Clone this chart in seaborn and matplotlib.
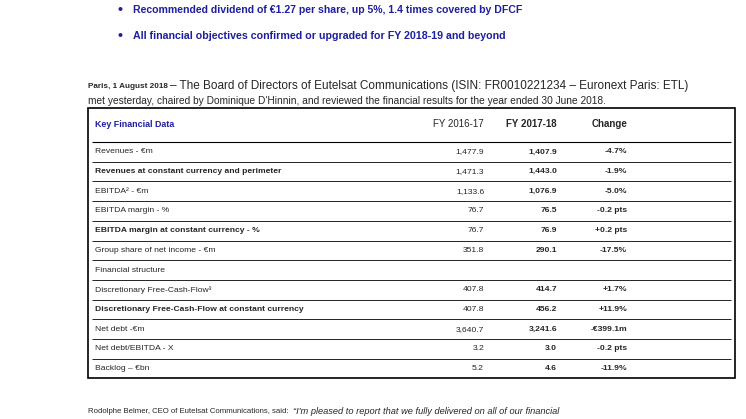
import matplotlib
matplotlib.use("Agg")
import matplotlib.pyplot as plt
import seaborn as sns

sns.set_theme(style="white")
font = "Liberation Sans"

# table data
labels = ["Revenues - €m", "Revenues at constant currency and perimeter", "EBITDA² - €m",
          "EBITDA margin - %", "EBITDA margin at constant currency - %",
          "Group share of net income - €m", "Financial structure",
          "Discretionary Free-Cash-Flow³", "Discretionary Free-Cash-Flow at constant currency",
          "Net debt -€m", "Net debt/EBITDA - X", "Backlog – €bn"]
fy17 = ["1,477.9", "1,471.3", "1,133.6", "76.7", "76.7", "351.8", "",
        "407.8", "407.8", "3,640.7", "3.2", "5.2"]
fy18 = ["1,407.9", "1,443.0", "1,076.9", "76.5", "76.9", "290.1", "",
        "414.7", "456.2", "3,241.6", "3.0", "4.6"]
change = ["-4.7%", "-1.9%", "-5.0%", "-0.2 pts", "+0.2 pts", "-17.5%", "",
          "+1.7%", "+11.9%", "-€399.1m", "-0.2 pts", "-11.9%"]
bold_rows = [1, 4, 8]

bullets = ["Recommended dividend of €1.27 per share, up 5%, 1.4 times covered by DFCF",
           "All financial objectives confirmed or upgraded for FY 2018-19 and beyond"]

fig = plt.figure(figsize=(7.46, 4.19), dpi=100)
ax = fig.add_axes([0, 0, 1, 1])
ax.set_xlim(0, 746)
ax.set_ylim(419, 0)
ax.axis("off")
r = fig.canvas.get_renderer()


def fit(x, y, s, width, **kw):
    # draw text and shrink it horizontally-ish by font size so it spans width pixels
    t = ax.text(x, y, s, va="center", family=font, **kw)
    w = t.get_window_extent(r).width
    t.set_fontsize(t.get_fontsize() * width / w)
    return t


blue = "#1f1f9e"
ax.text(117, 10, "•", color=blue, fontsize=10, fontweight="bold", va="center", family=font)
ax.text(117, 36, "•", color=blue, fontsize=10, fontweight="bold", va="center", family=font)
fit(133, 10, bullets[0], 391, color=blue, fontsize=10, fontweight="bold")
fit(133, 36, bullets[1], 374, color=blue, fontsize=10, fontweight="bold")

fit(88, 86, "Paris, 1 August 2018", 80, fontsize=8, fontweight="bold")
fit(170, 86, "– The Board of Directors of Eutelsat Communications (ISIN: FR0010221234 – Euronext Paris: ETL)",
    521, fontsize=8)
fit(88, 101, "met yesterday, chaired by Dominique D'Hinnin, and reviewed the financial results for the year ended 30 June 2018.",
    522, fontsize=8)

# table frame
ax.add_patch(plt.Rectangle((88, 108), 647, 270, fill=False, lw=1.2, ec="black"))
fit(95, 124, "Key Financial Data", 80, color=blue, fontsize=8, fontweight="bold")
ax.text(484, 124, "FY 2016-17", fontsize=7, ha="right", va="center", family=font)
ax.text(557, 124, "FY 2017-18", fontsize=7, ha="right", va="center", fontweight="bold", family=font)
ax.text(627, 124, "Change", fontsize=7, ha="right", va="center", fontweight="bold", family=font)

top = 142
step = 19.7
ax.hlines(top, 92, 731, color="black", lw=0.8)
for i, lab in enumerate(labels):
    yc = top + step * (i + 0.5)
    w = "bold" if i in bold_rows else "normal"
    ax.text(95, yc, lab, fontsize=6.1, fontweight=w, va="center", family=font)
    ax.text(484, yc, fy17[i], fontsize=6.1, ha="right", va="center", family=font)
    ax.text(557, yc, fy18[i], fontsize=6.1, ha="right", va="center", fontweight="bold", family=font)
    ax.text(627, yc, change[i], fontsize=6.1, ha="right", va="center", fontweight="bold", family=font)
    if i < len(labels) - 1:
        ax.hlines(top + step * (i + 1), 92, 731, color="black", lw=0.6)

fit(88, 411, "Rodolphe Belmer, CEO of Eutelsat Communications, said: ", 204, fontsize=8)
fit(293, 411, "\u201cI'm pleased to report that we fully delivered on all of our financial",
    271, fontsize=8, style="italic")

fig.savefig("out.png", dpi=100)
